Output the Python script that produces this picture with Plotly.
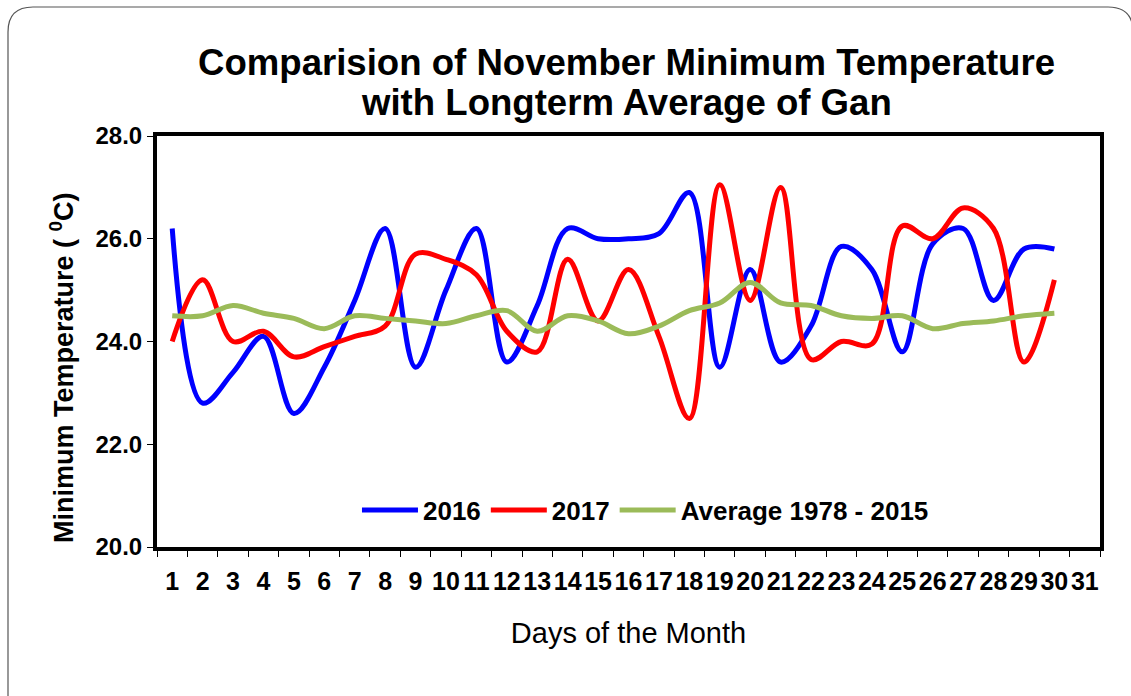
import plotly.graph_objects as go

days = list(range(1, 31))
day_labels = [str(d) for d in range(1, 32)]

t2016 = [26.2, 22.8, 23.4, 24.1, 22.6, 23.5, 24.8, 26.2, 23.5, 25.0,
         26.2, 23.6, 24.7, 26.2, 26.0, 26.0, 26.1, 26.9, 23.5, 25.4,
         23.6, 24.3, 25.85, 25.4, 23.8, 25.9, 26.2, 24.8, 25.8, 25.8]
t2017 = [24.0, 25.2, 24.0, 24.2, 23.7, 23.9, 24.1, 24.3, 25.7, 25.6,
         25.3, 24.2, 23.8, 25.6, 24.4, 25.4, 24.1, 22.5, 27.05, 24.8,
         27.0, 23.65, 24.0, 23.95, 26.25, 26.0, 26.6, 26.2, 23.6, 25.2]
avg = [24.5, 24.5, 24.7, 24.55, 24.45, 24.25, 24.5, 24.45, 24.4, 24.35,
       24.5, 24.6, 24.2, 24.5, 24.4, 24.15, 24.3, 24.6, 24.75, 25.15,
       24.75, 24.7, 24.5, 24.45, 24.5, 24.25, 24.35, 24.4, 24.5, 24.55]

y_ticks = [20.0, 22.0, 24.0, 26.0, 28.0]

title_lines = ["Comparision of November Minimum Temperature",
               "with Longterm Average of Gan"]

FONT = "Liberation Sans, Arial, sans-serif"

fig = go.Figure()
for name, vals, col in [("2016", t2016, "#0000FF"),
                        ("2017", t2017, "#FF0000"),
                        ("Average 1978 - 2015", avg, "#9BBB59")]:
    fig.add_trace(go.Scatter(x=days, y=vals, name=name, mode="lines",
                             line=dict(color=col, width=5, shape="spline", smoothing=1.0)))

fig.update_layout(
    width=1131, height=696,
    paper_bgcolor="white", plot_bgcolor="white",
    margin=dict(l=157, r=31, t=136, b=149),
    font=dict(family=FONT, color="black"),
    showlegend=True,
    legend=dict(orientation="h", x=0.518, xanchor="center", y=0.09, yanchor="middle",
                bgcolor="rgba(0,0,0,0)", font=dict(size=26, family=FONT, color="black", weight="bold"),
                itemwidth=56, traceorder="normal"),
    xaxis=dict(range=[0.5, 31.5], tickvals=list(range(1, 32)), ticktext=day_labels,
               ticks="", showgrid=False, zeroline=False,
               showline=True, linecolor="black", linewidth=4, mirror=True,
               tickfont=dict(size=25, family=FONT, color="black", weight="bold"),
               ticklabelstandoff=9,
               minor=dict(tickvals=[i + 0.5 for i in range(0, 32)], ticks="outside",
                          ticklen=6, tickcolor="black", tickwidth=1),
               title=dict(text="Days of the Month", standoff=30,
                          font=dict(size=29, family=FONT, color="black"))),
    yaxis=dict(range=[20, 28], tickvals=y_ticks, ticktext=[f"{v:.1f}" for v in y_ticks],
               ticks="outside", ticklen=6, tickcolor="black", tickwidth=1,
               showgrid=False, zeroline=False,
               showline=True, linecolor="black", linewidth=4, mirror=True,
               tickfont=dict(size=24, family=FONT, color="black", weight="bold")),
)

for line, ypos in zip(title_lines, [(547 - 62) / 411, (547 - 102) / 411]):
    fig.add_annotation(text=f"<b>{line}</b>", xref="paper", yref="paper",
                       x=(626.5 - 157) / 943, y=ypos, xanchor="center", yanchor="middle",
                       showarrow=False, font=dict(size=36.6, family=FONT, color="black"))

fig.add_annotation(text="<b>Minimum Temperature ( <sup>0</sup>C)</b>", textangle=-90,
                   xref="paper", yref="paper", x=(62 - 157) / 943, y=(547 - 368) / 411,
                   xanchor="center", yanchor="middle",
                   showarrow=False, font=dict(size=27, family=FONT, color="black"))

fig.add_shape(type="path", xref="paper", yref="paper", layer="below",
              path="M {x0},{y1} L {x0},{y2} Q {x0},{y3} {x4},{y3} L {x5},{y3} Q {x6},{y3} {x6},{y2} L {x6},{y7}".format(
                  x0=(8 - 157) / 943, y1=(547 - 702) / 411, y2=(547 - 32) / 411, y3=(547 - 7) / 411,
                  x4=(33 - 157) / 943, x5=(1108 - 157) / 943, x6=(1133 - 157) / 943, y7=(547 - 702) / 411),
              line=dict(color="#555555", width=1.2))

fig.write_html("out.html", config={"displayModeBar": False},
               post_script="document.body.style.margin='0px';")
